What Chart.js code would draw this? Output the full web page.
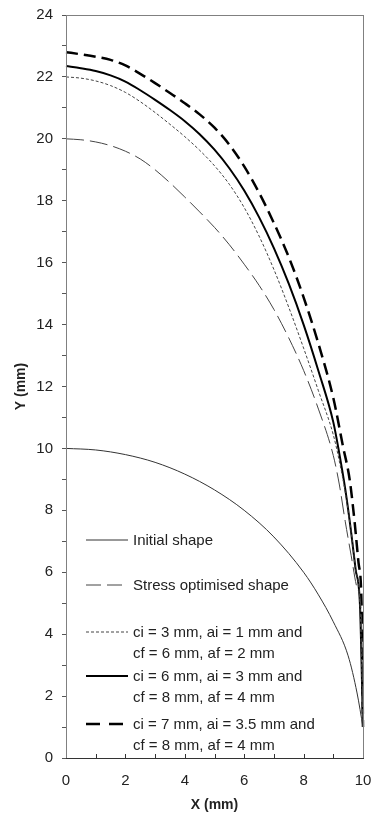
<!DOCTYPE html>
<html>
<head>
<meta charset="utf-8">
<script src="https://cdn.jsdelivr.net/npm/chart.js@4/dist/chart.umd.min.js"></script>
<style>
  html, body { margin: 0; padding: 0; background: #fff; }
  #wrap { position: relative; width: 371px; height: 815px; }
  #legend { position: absolute; left: 0; top: 0; font-family: "Liberation Sans", Arial, sans-serif; font-size: 15px; color: #222; }
  .item { position: absolute; left: 85px; }
  .item svg { position: absolute; left: 0; top: 0; }
  .item span { position: absolute; left: 48px; top: -11px; white-space: nowrap; line-height: 21px; }
</style>
</head>
<body>
<div id="wrap">
  <canvas id="theChart" width="371" height="815"></canvas>
  <div id="legend"></div>
</div>
<script>
const initialX = [0, 1, 2, 3, 4, 5, 6, 7, 8, 8.5, 9, 9.5, 9.8, 10];
const initialY = [10, 9.95, 9.8, 9.55, 9.17, 8.66, 8.0, 7.14, 6.0, 5.27, 4.4, 3.3, 2.1, 1.0];

const stressX = [0, 0.5, 1, 1.5, 2, 2.5, 3, 3.5, 4, 4.5, 5, 5.5, 6, 6.5, 7, 7.5, 8, 8.5, 9, 9.2, 9.4, 9.6, 9.8, 9.95, 10];
const stressY = [20.0, 19.97, 19.9, 19.78, 19.6, 19.35, 19.0, 18.58, 18.12, 17.64, 17.14, 16.58, 15.95, 15.27, 14.49, 13.57, 12.52, 11.27, 9.77, 8.85, 7.65, 6.55, 5.5, 4.5, 1.0];

const ci3X = [0, 0.5, 1, 1.5, 2, 2.5, 3, 3.5, 4, 4.5, 5, 5.5, 6, 6.5, 7, 7.5, 8, 8.5, 9, 9.2, 9.4, 9.6, 9.75, 9.9, 10];
const ci3Y = [22.0, 21.96, 21.87, 21.72, 21.5, 21.2, 20.85, 20.47, 20.07, 19.63, 19.13, 18.53, 17.78, 16.86, 15.78, 14.56, 13.24, 11.86, 10.44, 9.6, 8.6, 7.3, 6.1, 4.9, 1.0];

const ci6X = [0, 0.5, 1, 1.5, 2, 2.5, 3, 3.5, 4, 4.5, 5, 5.5, 6, 6.5, 7, 7.5, 8, 8.5, 9, 9.2, 9.4, 9.6, 9.75, 9.9, 10];
const ci6Y = [22.35, 22.28, 22.19, 22.05, 21.85, 21.57, 21.26, 20.93, 20.57, 20.15, 19.65, 19.05, 18.33, 17.47, 16.47, 15.32, 14.0, 12.5, 10.85, 9.85, 8.7, 7.3, 6.1, 4.9, 1.0];

const ci7X = [0, 0.5, 1, 1.5, 2, 2.5, 3, 3.5, 4, 4.5, 5, 5.5, 6, 6.5, 7, 7.5, 8, 8.5, 9, 9.33, 9.55, 9.72, 9.85, 9.95, 10];
const ci7Y = [22.8, 22.73, 22.65, 22.55, 22.37, 22.1, 21.8, 21.48, 21.15, 20.79, 20.36, 19.81, 19.11, 18.26, 17.28, 16.18, 14.88, 13.38, 11.63, 10.05, 9.0, 7.6, 6.3, 5.0, 1.0];

const legendLabels = [
  ["Initial shape"],
  ["Stress optimised shape"],
  ["ci = 3 mm, ai = 1 mm and", "cf = 6 mm, af = 2 mm"],
  ["ci = 6 mm, ai = 3 mm and", "cf = 8 mm, af = 4 mm"],
  ["ci = 7 mm, ai = 3.5 mm and", "cf = 8 mm, af = 4 mm"],
];

function toPoints(xs, ys) {
  return xs.map((x, i) => ({ x, y: ys[i] }));
}

const series = [
  { data: toPoints(initialX, initialY), borderColor: "#333", borderWidth: 1, borderDash: [], legendDash: "", top: 540 },
  { data: toPoints(stressX, stressY), borderColor: "#444", borderWidth: 1, borderDash: [18, 6], legendDash: "15 6", top: 585 },
  { data: toPoints(ci3X, ci3Y), borderColor: "#444", borderWidth: 1, borderDash: [3, 2], legendDash: "3 2", top: 632 },
  { data: toPoints(ci6X, ci6Y), borderColor: "#000", borderWidth: 2, borderDash: [], legendDash: "", top: 676 },
  { data: toPoints(ci7X, ci7Y), borderColor: "#000", borderWidth: 2.5, borderDash: [12, 6], legendDash: "14 9", top: 724 },
];

// legend drawn as html so the text stays text
const legendEl = document.getElementById("legend");
series.forEach((s, i) => {
  const div = document.createElement("div");
  div.className = "item";
  div.style.top = s.top + "px";
  div.innerHTML = `
    <svg width="44" height="4" style="top:-2px">
      <line x1="1" y1="2" x2="43" y2="2" stroke="${s.borderColor}" stroke-width="${s.borderWidth}"
        ${s.legendDash ? `stroke-dasharray="${s.legendDash}"` : ""}/>
    </svg>
    <span>${legendLabels[i].join("<br>")}</span>`;
  legendEl.appendChild(div);
});

const framePlugin = {
  id: "frame",
  afterDraw(chart) {
    const { ctx, chartArea: a, scales } = chart;
    ctx.save();
    ctx.lineWidth = 1;
    ctx.strokeStyle = "#808080";
    ctx.strokeRect(a.left + 0.5, a.top + 0.5, a.right - a.left, a.bottom - a.top);
    ctx.strokeStyle = "#333";
    ctx.beginPath();
    ctx.moveTo(a.left, a.bottom + 0.5);
    ctx.lineTo(a.right + 1, a.bottom + 0.5);
    // inner x ticks
    for (let v = 1; v < 10; v++) {
      const px = Math.round(scales.x.getPixelForValue(v)) + 0.5;
      ctx.moveTo(px, a.bottom);
      ctx.lineTo(px, a.bottom - 4);
    }
    ctx.stroke();
    ctx.restore();
  },
};

Chart.defaults.font.family = "'Liberation Sans', Arial, sans-serif";
Chart.defaults.font.size = 15;
Chart.defaults.color = "#222";

const myChart = new Chart(document.getElementById("theChart"), {
  type: "line",
  data: {
    datasets: series.map((s) => ({
      data: s.data,
      borderColor: s.borderColor,
      borderWidth: s.borderWidth,
      borderDash: s.borderDash,
      pointRadius: 0,
      cubicInterpolationMode: "monotone",
      fill: false,
      clip: false,
    })),
  },
  options: {
    responsive: false,
    animation: false,
    devicePixelRatio: 1,
    layout: { padding: { top: 15, right: 8, left: 0, bottom: 0 } },
    plugins: { legend: { display: false }, tooltip: { enabled: false } },
    scales: {
      x: {
        type: "linear",
        min: 0,
        max: 10,
        grid: { display: false, drawTicks: false },
        border: { display: false },
        ticks: {
          stepSize: 1,
          autoSkip: false,
          maxRotation: 0,
          padding: 14,
          callback: (v) => (v % 2 === 0 ? v : ""),
        },
        title: { display: true, text: "X (mm)", font: { weight: "bold", size: 14 }, padding: { top: 0, bottom: 1 } },
        afterFit: (scale) => { scale.height = 57; scale.paddingRight = 0; },
      },
      y: {
        type: "linear",
        min: 0,
        max: 24,
        grid: { drawOnChartArea: false, tickLength: 4, color: "#555" },
        border: { display: false },
        ticks: {
          stepSize: 1,
          autoSkip: false,
          padding: 9,
          callback: (v) => (v % 2 === 0 ? v : ""),
        },
        title: { display: true, text: "Y (mm)", font: { weight: "bold", size: 14 }, padding: { top: 13, bottom: 0 } },
        afterFit: (scale) => { scale.width = 66; scale.paddingTop = 0; scale.paddingBottom = 0; },
      },
    },
  },
  plugins: [framePlugin],
});
</script>
</body>
</html>
